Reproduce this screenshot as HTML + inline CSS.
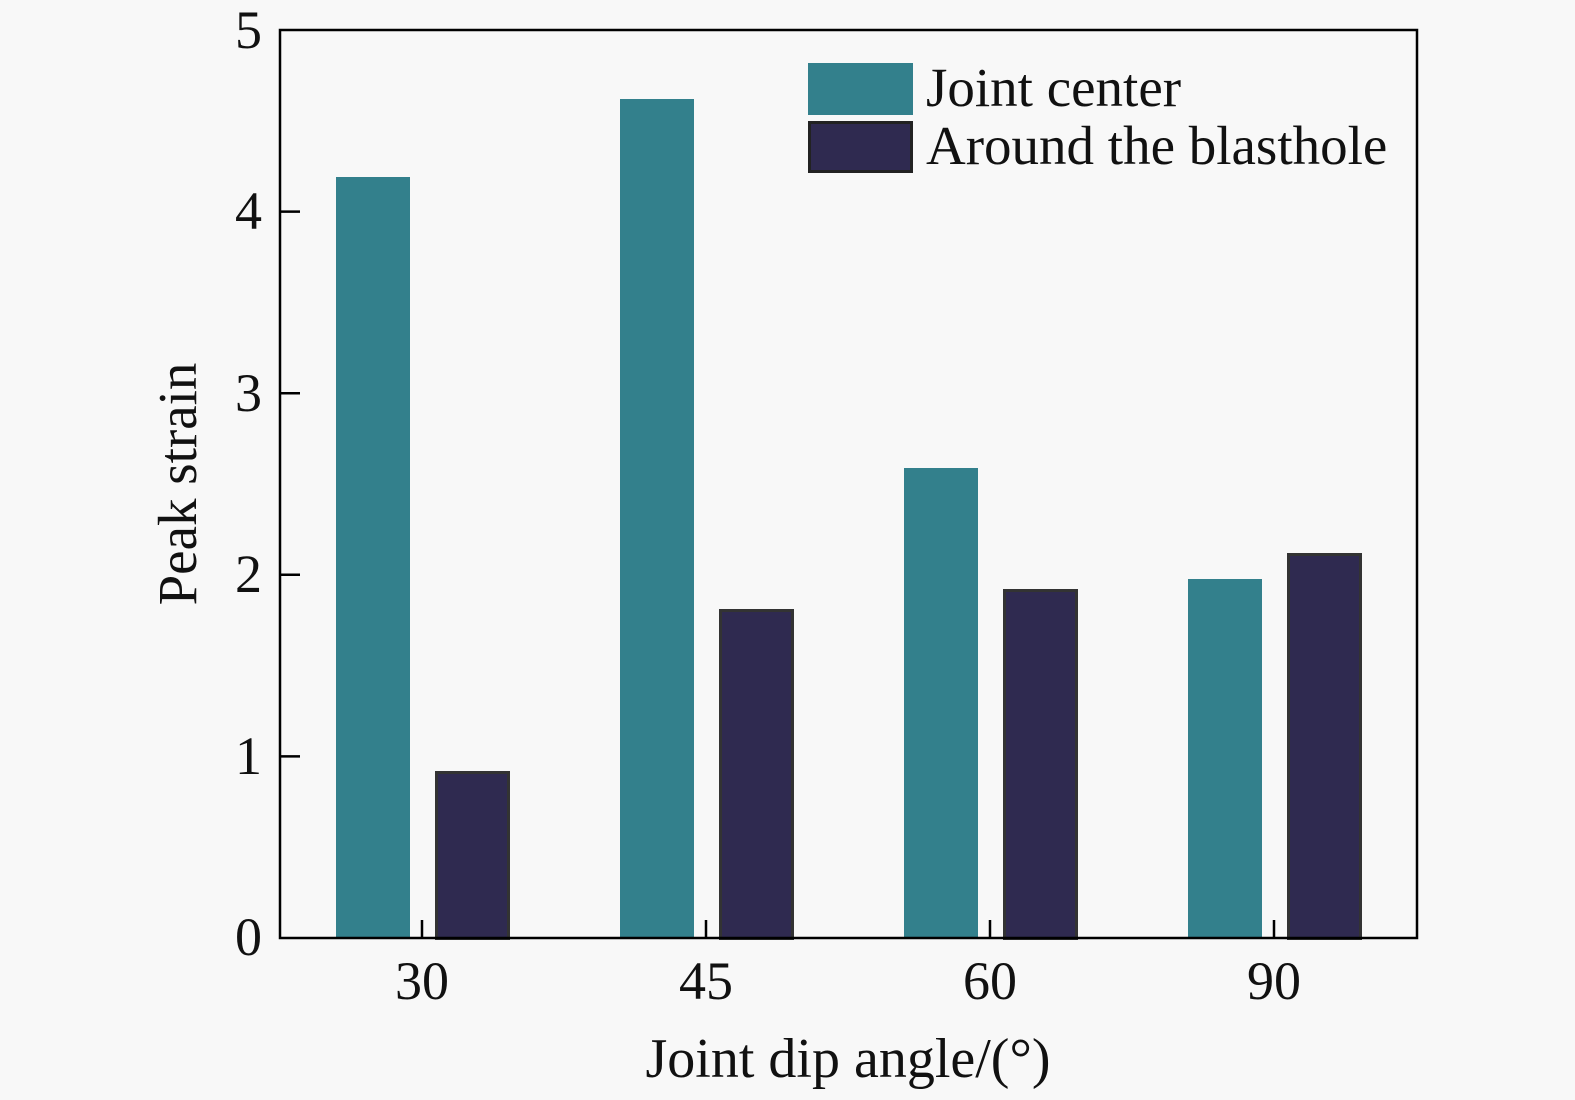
<!DOCTYPE html>
<html><head><style>body{margin:0;background:#f8f8f8}</style></head><body>
<svg width="1575" height="1100" xmlns="http://www.w3.org/2000/svg" style="display:block">
<rect width="1575" height="1100" fill="#f8f8f8"/>
<g fill="#33808c">
<rect x="336" y="177" width="74" height="761"/>
<rect x="620" y="99" width="74" height="839"/>
<rect x="904" y="468" width="74" height="470"/>
<rect x="1188" y="579" width="74" height="359"/>
</g>
<g fill="#2f2a50" stroke="#333" stroke-width="3">
<rect x="436.5" y="772.5" width="72" height="166"/>
<rect x="720.5" y="610.5" width="72" height="328"/>
<rect x="1004.5" y="590.5" width="72" height="348"/>
<rect x="1288.5" y="554.5" width="72" height="384"/>
</g>
<rect x="280" y="30" width="1137" height="908" fill="none" stroke="#000" stroke-width="2.5"/>
<g stroke="#000" stroke-width="2.5">
<line x1="280" y1="756.4" x2="300" y2="756.4"/>
<line x1="280" y1="574.8" x2="300" y2="574.8"/>
<line x1="280" y1="393.2" x2="300" y2="393.2"/>
<line x1="280" y1="211.6" x2="300" y2="211.6"/>
<line x1="422" y1="938" x2="422" y2="920"/>
<line x1="706" y1="938" x2="706" y2="920"/>
<line x1="990" y1="938" x2="990" y2="920"/>
<line x1="1274" y1="938" x2="1274" y2="920"/>
</g>
<g font-family="Liberation Serif, serif" font-size="54" fill="#111">
<g text-anchor="end">
<text x="262" y="955">0</text><text x="262" y="774">1</text><text x="262" y="592">2</text>
<text x="262" y="411">3</text><text x="262" y="229">4</text><text x="262" y="48">5</text>
</g>
<g text-anchor="middle">
<text x="422" y="999">30</text><text x="706" y="999">45</text><text x="990" y="999">60</text><text x="1274" y="999">90</text>
<text x="848" y="1077" font-size="56">Joint dip angle/(°)</text>
<text transform="translate(196,484) rotate(-90)" font-size="55">Peak strain</text>
</g>
<rect x="808" y="63" width="105" height="52" fill="#33808c"/>
<rect x="809.5" y="122.5" width="102" height="49" fill="#2f2a50" stroke="#222" stroke-width="3"/>
<text x="926" y="106" font-size="55">Joint center</text>
<text x="926" y="164" font-size="55">Around the blasthole</text>
</g>
</svg>
</body></html>
